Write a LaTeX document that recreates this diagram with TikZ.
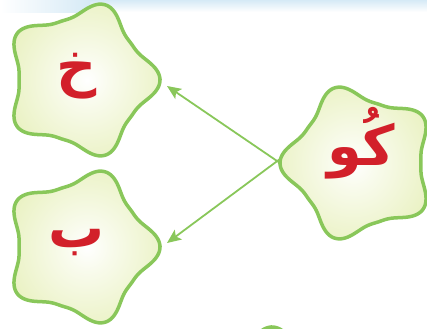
\documentclass[tikz,border=0pt]{standalone}
\usepackage{fontspec}
\newfontfamily\arabicfont[Script=Arabic]{DejaVu Sans}
\TeXXeTstate=1
\usetikzlibrary{arrows.meta}
\definecolor{sgreen}{RGB}{137,199,90}
\definecolor{sfill}{RGB}{233,241,192}
\definecolor{sred}{RGB}{210,32,42}
\definecolor{sblue}{RGB}{214,234,246}
\pgfdeclareradialshading{starshade}{\pgfpoint{0bp}{0bp}}{color(0bp)=(white); color(8bp)=(white!70!sfill); color(30bp)=(sfill); color(50bp)=(sfill)}
\tikzset{
  starbox/.style={draw=sgreen, line width=3.5bp, shading=starshade},
  letter/.style={text=sred, font=\arabicfont\bfseries\fontsize{56}{62}\selectfont, inner sep=0pt},
  link/.style={draw=sgreen, line width=1.8bp, -{Stealth[length=14bp,width=12bp,inset=3bp]}}
}
% #1 cx, #2 cy, #3 rotation of a tip (deg)
\newcommand{\roundstar}[3]{%
  \path[starbox] plot[domain=0:360, samples=240, smooth, variable=\t]
   ({#1+(62+17*((1+cos(5*\t))/2)^1.6)*cos(\t+#3)},{#2+(62+17*((1+cos(5*\t))/2)^1.6)*sin(\t+#3)}) -- cycle;}
\begin{document}
\begin{tikzpicture}[x=1bp,y=-1bp]
\useasboundingbox (0,0) rectangle (427,329);
\clip (0,0) rectangle (427,329);
\shade[top color=sblue, bottom color=white] (90,0) rectangle (427,12);
\shade[left color=white, right color=sblue] (0,0) rectangle (90,12);
% stars (tip angle measured with y downward)
\roundstar{81}{80}{0}
\roundstar{81}{247}{0}
\roundstar{359}{163}{180}
\roundstar{272}{406}{-90}
% letters
\node[letter] (kha) at (77,76) {\beginR خ\endR};
\node[letter] (ba) at (77,243) {\beginR ب\endR};
\node[letter] (ku) at (361,143) {\beginR كُو\endR};
% connector ends
\coordinate (kutip) at (280,163);
\coordinate (khatip) at (167,86);
\coordinate (batip) at (167,243);
\draw[link] (kutip) -- (khatip);
\draw[link] ([yshift=4bp]kutip) -- (batip);
\end{tikzpicture}
\end{document}
